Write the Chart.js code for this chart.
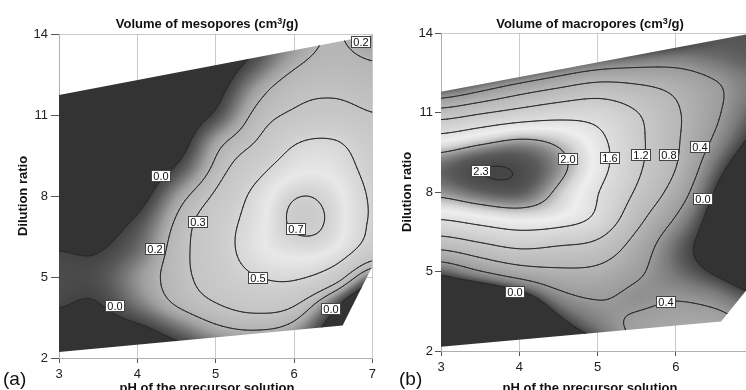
<!DOCTYPE html>
<html>
<head>
<meta charset="utf-8">
<script src="https://cdn.jsdelivr.net/npm/chart.js@4.4.1/dist/chart.umd.min.js"></script>
<style>
  body { margin: 0; width: 746px; height: 390px; overflow: hidden; position: relative; background: #fff;
         font-family: "Liberation Sans", Arial, sans-serif; }
  canvas { position: absolute; top: 0; }
  .txt { position: absolute; white-space: nowrap; color: #111; }
  .ttl { font-weight: bold; font-size: 13px; line-height: 16px; text-align: center; width: 240px; }
  .ttl sup { font-size: 9px; line-height: 0; vertical-align: 4px; }
  .tag { font-size: 19px; line-height: 22px; }
</style>
</head>
<body>
<canvas id="meso" style="left:0" width="380" height="400"></canvas>
<canvas id="macro" style="left:373px" width="400" height="400"></canvas>
<div class="txt ttl" style="left:87px; top:16px">Volume of mesopores (cm<sup>3</sup>/g)</div>
<div class="txt ttl" style="left:470px; top:16px">Volume of macropores (cm<sup>3</sup>/g)</div>
<div class="txt ttl" style="left:87px; top:380px">pH of the precursor solution</div>
<div class="txt ttl" style="left:470px; top:380px">pH of the precursor solution</div>
<div class="txt tag" style="left:3px; top:368px">(a)</div>
<div class="txt tag" style="left:399px; top:368px">(b)</div>
<script>
// axes
const phTicks = [3, 4, 5, 6, 7];
const dilutionTicks = [2, 5, 8, 11, 14];

// response surfaces, rows from dilution 14 down to 2
const gridPH = [3, 3.5, 4, 4.5, 5, 5.5, 6, 6.5, 7];
const gridDilution = [14, 13, 12, 11, 10, 9, 8, 7, 6, 5, 4, 3, 2];

const mesoVolume = [
  [-0.70, -0.60, -0.50, -0.35, -0.20, -0.02, 0.12, 0.22, 0.12],
  [-0.60, -0.50, -0.40, -0.25, -0.12, 0.03, 0.18, 0.23, 0.20],
  [-0.50, -0.42, -0.32, -0.18, -0.06, 0.15, 0.265, 0.28, 0.255],
  [-0.42, -0.33, -0.24, -0.12, 0.01, 0.23, 0.32, 0.35, 0.30],
  [-0.35, -0.26, -0.17, -0.09, 0.17, 0.29, 0.50, 0.53, 0.40],
  [-0.30, -0.22, -0.12, 0.01, 0.23, 0.44, 0.60, 0.60, 0.44],
  [-0.22, -0.14, -0.07, 0.15, 0.32, 0.55, 0.71, 0.67, 0.47],
  [-0.12, -0.06, 0.02, 0.22, 0.41, 0.57, 0.735, 0.69, 0.47],
  [0.005, -0.01, 0.07, 0.25, 0.40, 0.60, 0.66, 0.64, 0.42],
  [0.02, 0.025, 0.14, 0.25, 0.38, 0.50, 0.54, 0.42, 0.05],
  [0.01, -0.01, 0.10, 0.22, 0.30, 0.36, 0.33, 0.05, -0.30],
  [-0.05, -0.06, -0.05, 0.06, 0.17, 0.20, 0.15, -0.10, -0.50],
  [-0.20, -0.15, -0.20, -0.10, 0.00, 0.05, 0.00, -0.20, -0.60]
];

const macroVolume = [
  [-1.80, -1.60, -1.50, -1.00, -0.80, -0.50, -0.20, 0.04, 0.06],
  [-1.00, -0.80, -0.60, -0.20, 0.06, 0.20, 0.26, 0.16, 0.08],
  [-0.12, 0.20, 0.53, 0.76, 0.95, 0.86, 0.72, 0.47, 0.18],
  [0.97, 1.17, 1.33, 1.46, 1.48, 1.24, 0.86, 0.47, 0.08],
  [1.74, 1.90, 2.04, 1.95, 1.70, 1.30, 0.86, 0.36, -0.08],
  [2.18, 2.33, 2.30, 2.10, 1.75, 1.28, 0.84, 0.14, -0.25],
  [2.08, 2.20, 2.25, 1.96, 1.62, 1.17, 0.65, -0.04, -0.40],
  [1.63, 1.75, 1.84, 1.80, 1.57, 0.93, 0.37, -0.15, -0.45],
  [0.95, 1.15, 1.31, 1.21, 1.13, 0.65, 0.12, -0.15, -0.40],
  [0.06, 0.40, 0.65, 0.74, 0.72, 0.47, 0.15, -0.05, -0.25],
  [-0.50, -0.55, -0.25, 0.28, 0.43, 0.30, 0.39, 0.28, 0.03],
  [-1.00, -0.90, -0.80, -0.12, 0.22, 0.50, 0.58, 0.60, 0.35],
  [-1.40, -1.20, -1.00, -0.50, -0.10, 0.45, 0.55, 0.60, 0.40]
];

const mesoLevels = [0, 0.2, 0.3, 0.5, 0.7];
const macroLevels = [0, 0.4, 0.8, 1.2, 1.6, 2.0, 2.3];

// experimental domain
const mesoDomainPH = [3, 7, 7, 6.62, 3];
const mesoDomainDilution = [11.74, 13.95, 5.4, 3.2, 2.22];
const macroDomainPH = [3, 7, 7, 6.58, 3];
const macroDomainDilution = [11.78, 14.0, 4.65, 3.11, 2.16];

// contour labels
const mesoLabelPH = [4.30, 4.22, 4.77, 3.72, 6.03, 5.54, 6.47, 6.85];
const mesoLabelDilution = [8.74, 6.03, 7.05, 3.93, 6.78, 4.95, 3.80, 13.70];
const mesoLabelText = ['0.0', '0.2', '0.3', '0.0', '0.7', '0.5', '0.0', '0.2'];
const macroLabelPH = [3.51, 4.62, 5.16, 5.56, 5.92, 6.31, 6.35, 5.88, 3.95];
const macroLabelDilution = [8.79, 9.23, 9.27, 9.40, 9.40, 9.71, 7.72, 3.86, 4.24];
const macroLabelText = ['2.3', '2.0', '1.6', '1.2', '0.8', '0.4', '0.0', '0.4', '0.0'];

// gray shading of each map
const mesoShade = { at: [-0.001, 0, 0.05, 0.1, 0.15, 0.2, 0.3, 0.45, 0.55, 0.62, 0.68, 0.75],
                    gray: [51, 66, 90, 122, 158, 180, 196, 206, 220, 232, 214, 195] };
const macroShade = { at: [-0.001, 0, 0.1, 0.2, 0.4, 0.8, 1.2, 1.6, 1.78, 1.9, 2.0, 2.1, 2.2, 2.35],
                     gray: [51, 66, 95, 122, 155, 182, 200, 222, 238, 215, 175, 130, 90, 62] };

const FONT = '"Liberation Sans", Arial, sans-serif';
const gridColor = 'rgba(150,150,150,0.5)';
const SMOOTH = 0.4; // share of B-spline mixed into the Catmull-Rom surface

function cubic(p0, p1, p2, p3, t) {
  const cr = p1 + 0.5 * t * (p2 - p0 + t * (2 * p0 - 5 * p1 + 4 * p2 - p3 + t * (3 * (p1 - p2) + p3 - p0)));
  const t2 = t * t, t3 = t2 * t, u = 1 - t;
  const bs = (u * u * u * p0 + (3 * t3 - 6 * t2 + 4) * p1 + (-3 * t3 + 3 * t2 + 3 * t + 1) * p2 + t3 * p3) / 6;
  return cr * (1 - SMOOTH) + bs * SMOOTH;
}

function sampleField(values, x, y) {
  const nx = gridPH.length, ny = gridDilution.length;
  const fx = (x - gridPH[0]) / (gridPH[1] - gridPH[0]);
  const fy = (y - gridDilution[0]) / (gridDilution[1] - gridDilution[0]);
  const i = Math.min(Math.max(Math.floor(fx), 0), nx - 2);
  const j = Math.min(Math.max(Math.floor(fy), 0), ny - 2);
  const tx = fx - i, ty = fy - j;
  const cx = k => Math.min(Math.max(k, 0), nx - 1);
  const cy = k => Math.min(Math.max(k, 0), ny - 1);
  const row = k => {
    const r = values[cy(k)];
    return cubic(r[cx(i - 1)], r[cx(i)], r[cx(i + 1)], r[cx(i + 2)], tx);
  };
  return cubic(row(j - 1), row(j), row(j + 1), row(j + 2), ty);
}

function shadeOf(shade, v) {
  const { at, gray } = shade;
  if (v <= at[0]) return gray[0];
  for (let k = 1; k < at.length; k++) {
    if (v <= at[k]) {
      const t = (v - at[k - 1]) / (at[k] - at[k - 1]);
      return gray[k - 1] + t * (gray[k] - gray[k - 1]);
    }
  }
  return gray[gray.length - 1];
}

function surfacePlugin(cfg) {
  let cache = null;
  return {
    id: 'surface',
    beforeDatasetsDraw(chart) {
      const { ctx, chartArea: a, scales: { x, y } } = chart;
      const left = Math.floor(a.left), top = Math.floor(a.top);
      const w = Math.ceil(a.right) - left, h = Math.ceil(a.bottom) - top;
      const key = [left, top, w, h].join();
      if (!cache || cache.key !== key) {
        const off = document.createElement('canvas');
        off.width = w; off.height = h;
        const octx = off.getContext('2d');
        const img = octx.createImageData(w, h);
        for (let py = 0; py < h; py++) {
          const dv = y.getValueForPixel(top + py + 0.5);
          for (let px = 0; px < w; px++) {
            const g = shadeOf(cfg.shade, sampleField(cfg.values, x.getValueForPixel(left + px + 0.5), dv));
            const k = (py * w + px) * 4;
            img.data[k] = img.data[k + 1] = img.data[k + 2] = g;
            img.data[k + 3] = 255;
          }
        }
        octx.putImageData(img, 0, 0);

        // marching squares on a 2px lattice
        const step = 2;
        const nx = Math.ceil(w / step), ny = Math.ceil(h / step);
        const f = new Float32Array((nx + 1) * (ny + 1));
        for (let j = 0; j <= ny; j++) {
          const dv = y.getValueForPixel(top + j * step);
          for (let i = 0; i <= nx; i++) {
            f[j * (nx + 1) + i] = sampleField(cfg.values, x.getValueForPixel(left + i * step), dv);
          }
        }
        const segs = [];
        cfg.levels.forEach(L => {
          const out = [];
          for (let j = 0; j < ny; j++) {
            for (let i = 0; i < nx; i++) {
              const va = f[j * (nx + 1) + i], vb = f[j * (nx + 1) + i + 1];
              const vc = f[(j + 1) * (nx + 1) + i + 1], vd = f[(j + 1) * (nx + 1) + i];
              const x0 = left + i * step, y0 = top + j * step;
              const edge = (v1, v2, p1x, p1y, p2x, p2y) => {
                if ((v1 >= L) !== (v2 >= L)) {
                  const t = (L - v1) / (v2 - v1);
                  return [p1x + t * (p2x - p1x), p1y + t * (p2y - p1y)];
                }
                return null;
              };
              const eT = edge(va, vb, x0, y0, x0 + step, y0);
              const eR = edge(vb, vc, x0 + step, y0, x0 + step, y0 + step);
              const eB = edge(vd, vc, x0, y0 + step, x0 + step, y0 + step);
              const eL = edge(va, vd, x0, y0, x0, y0 + step);
              const pts = [eT, eR, eB, eL].filter(p => p);
              if (pts.length === 2) {
                out.push(pts[0], pts[1]);
              } else if (pts.length === 4) {
                const center = (va + vb + vc + vd) / 4;
                if ((center >= L) === (va >= L)) out.push(eT, eR, eB, eL);
                else out.push(eT, eL, eR, eB);
              }
            }
          }
          segs.push(out);
        });
        cache = { key, image: off, segs };
      }

      ctx.save();
      ctx.beginPath();
      ctx.rect(a.left, a.top, a.right - a.left, a.bottom - a.top);
      ctx.clip();
      ctx.beginPath();
      cfg.domainPH.forEach((v, k) => {
        const px = x.getPixelForValue(v), py = y.getPixelForValue(cfg.domainDilution[k]);
        if (k === 0) ctx.moveTo(px, py); else ctx.lineTo(px, py);
      });
      ctx.closePath();
      ctx.clip();
      ctx.drawImage(cache.image, left, top);
      ctx.strokeStyle = '#2a2a2a';
      ctx.lineWidth = 1;
      ctx.lineCap = 'round';
      cache.segs.forEach(out => {
        ctx.beginPath();
        for (let k = 0; k < out.length; k += 2) {
          ctx.moveTo(out[k][0], out[k][1]);
          ctx.lineTo(out[k + 1][0], out[k + 1][1]);
        }
        ctx.stroke();
      });
      ctx.restore();
    },
    afterDraw(chart) {
      const { ctx } = chart;
      const meta = chart.getDatasetMeta(0);
      ctx.save();
      ctx.font = '11px ' + FONT;
      ctx.textAlign = 'center';
      ctx.textBaseline = 'middle';
      meta.data.forEach((pt, k) => {
        const text = cfg.labelText[k];
        const bw = Math.round(ctx.measureText(text).width + 5), bh = 12;
        const bx = Math.round(pt.x - bw / 2), by = Math.round(pt.y - bh / 2);
        ctx.fillStyle = '#fff';
        ctx.fillRect(bx, by, bw, bh);
        ctx.strokeStyle = '#444';
        ctx.lineWidth = 1;
        ctx.strokeRect(bx + 0.5, by + 0.5, bw - 1, bh - 1);
        ctx.fillStyle = '#111';
        ctx.fillText(text, bx + bw / 2, by + bh / 2 + 0.5);
      });
      ctx.restore();
    }
  };
}

function makeChart(id, cfg) {
  return new Chart(document.getElementById(id), {
    type: 'scatter',
    data: {
      datasets: [{
        data: cfg.labelPH.map((v, k) => ({ x: v, y: cfg.labelDilution[k] })),
        pointRadius: 0,
        pointHoverRadius: 0
      }]
    },
    options: {
      responsive: false,
      animation: false,
      events: [],
      layout: { padding: { top: cfg.top, right: cfg.right, left: 0, bottom: 0 } },
      plugins: { legend: { display: false }, tooltip: { enabled: false } },
      scales: {
        x: {
          type: 'linear', min: 3, max: 7, z: 1,
          afterBuildTicks: s => { s.ticks = phTicks.map(v => ({ value: v })); },
          afterFit: s => { s.height = cfg.xAxisHeight; },
          grid: { color: gridColor, tickColor: '#555', tickLength: 5 },
          border: { color: gridColor },
          ticks: { padding: 4, color: '#222', font: { family: FONT, size: 13 } }
        },
        y: {
          type: 'linear', min: 2, max: 14, z: 1,
          afterBuildTicks: s => { s.ticks = dilutionTicks.map(v => ({ value: v })); },
          afterFit: s => { s.width = cfg.yAxisWidth; },
          grid: { color: gridColor, tickColor: '#555', tickLength: cfg.yTick },
          border: { color: gridColor },
          ticks: { padding: cfg.yPad, color: '#222', font: { family: FONT, size: 13 } },
          title: {
            display: true, text: 'Dilution ratio', color: '#111',
            font: { family: FONT, size: 13, weight: 'bold' },
            padding: { top: cfg.yTitlePad, bottom: 0 }
          }
        }
      }
    },
    plugins: [surfacePlugin(cfg)]
  });
}

makeChart('meso', {
  values: mesoVolume, levels: mesoLevels, shade: mesoShade,
  domainPH: mesoDomainPH, domainDilution: mesoDomainDilution,
  labelPH: mesoLabelPH, labelDilution: mesoLabelDilution, labelText: mesoLabelText,
  top: 34, right: 5, xAxisHeight: 42, yAxisWidth: 59, yTick: 8, yPad: 3, yTitlePad: 16
});

makeChart('macro', {
  values: macroVolume, levels: macroLevels, shade: macroShade,
  domainPH: macroDomainPH, domainDilution: macroDomainDilution,
  labelPH: macroLabelPH, labelDilution: macroLabelDilution, labelText: macroLabelText,
  top: 33, right: 19, xAxisHeight: 49, yAxisWidth: 68, yTick: 6, yPad: 2, yTitlePad: 27
});
</script>
</body>
</html>
